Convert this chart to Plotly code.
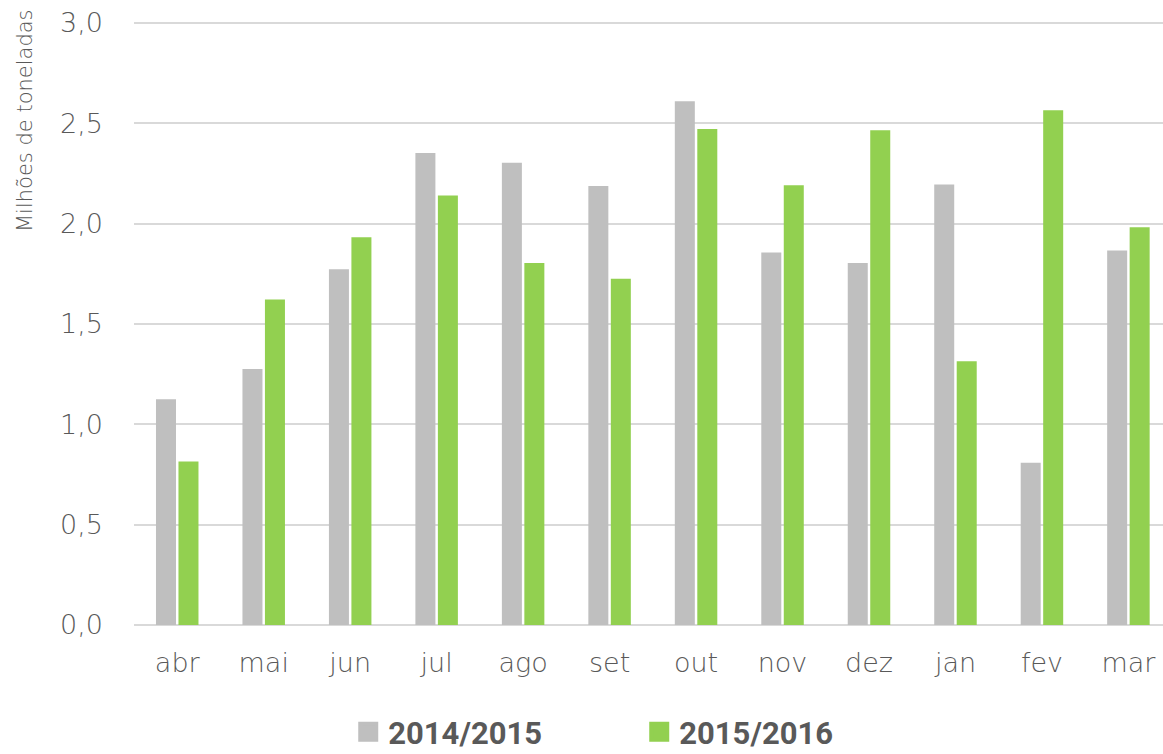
import plotly.graph_objects as go

months = ["abr", "mai", "jun", "jul", "ago", "set", "out", "nov", "dez", "jan", "fev", "mar"]
s2014_2015 = [1.125, 1.276, 1.773, 2.352, 2.304, 2.188, 2.610, 1.856, 1.804, 2.195, 0.808, 1.866]
s2015_2016 = [0.815, 1.622, 1.932, 2.140, 1.804, 1.725, 2.472, 2.191, 2.465, 1.315, 2.565, 1.982]
series_names = ["2014/2015", "2015/2016"]
y_ticks = [0, 0.5, 1.0, 1.5, 2.0, 2.5, 3.0]
y_tick_labels = ["0,0", "0,5", "1,0", "1,5", "2,0", "2,5", "3,0"]

GRAY = "#BFBFBF"
GREEN = "#92D050"
TXT = "#595959"
FONT = "DejaVu Sans"

fig = go.Figure()
for name, vals, col in [(series_names[0], s2014_2015, GRAY), (series_names[1], s2015_2016, GREEN)]:
    fig.add_trace(go.Bar(name=name, x=months, y=vals, showlegend=False,
                         marker=dict(color=col, line=dict(width=0))))
# legend entries with larger square symbols
for name, col in [(series_names[0], GRAY), (series_names[1], GREEN)]:
    fig.add_trace(go.Scatter(name=name, x=[None], y=[None], mode="markers",
                             marker=dict(symbol="square", size=16, color=col,
                                         line=dict(color=col, width=4))))

fig.update_layout(
    width=1163, height=754,
    margin=dict(l=134, r=0, t=17, b=129, autoexpand=False),
    paper_bgcolor="white", plot_bgcolor="white",
    barmode="group", bargap=0.48, bargroupgap=0.11,
    font=dict(family=FONT, color=TXT),
    showlegend=True,
    legend=dict(
        orientation="h", x=0.491, xanchor="center", y=-0.2204, yanchor="bottom",
        font=dict(family="Roboto", size=31, color=TXT, weight="bold"),
        entrywidth=246, traceorder="normal",
    ),
    xaxis=dict(
        range=[-0.5, 11.40],
        showgrid=False, showline=False, ticks="",
        tickfont=dict(family=FONT, size=27, color=TXT, weight=200),
        ticklabelstandoff=19,
    ),
    yaxis=dict(
        range=[0, 3.03], tickvals=y_ticks, ticktext=y_tick_labels,
        showgrid=True, gridcolor="#D9D9D9", gridwidth=1.5,
        zeroline=True, zerolinecolor="#D9D9D9", zerolinewidth=1.5,
        showline=False, ticks="",
        tickfont=dict(family=FONT, size=27, color=TXT, weight=200),
        ticklabelstandoff=30,
    ),
    annotations=[dict(
        text="Milhões de toneladas", textangle=-90,
        xref="paper", yref="paper", x=(25 - 134) / 1029, y=(625 - 121) / 608,
        xanchor="center", yanchor="middle", showarrow=False,
        font=dict(family=FONT, size=21, color=TXT, weight=200),
    )],
)

# remove the default 8px page margin so the figure fills the window exactly
fig.write_html("out.html", config={"displayModeBar": False},
               post_script="document.body.style.margin='0';")
